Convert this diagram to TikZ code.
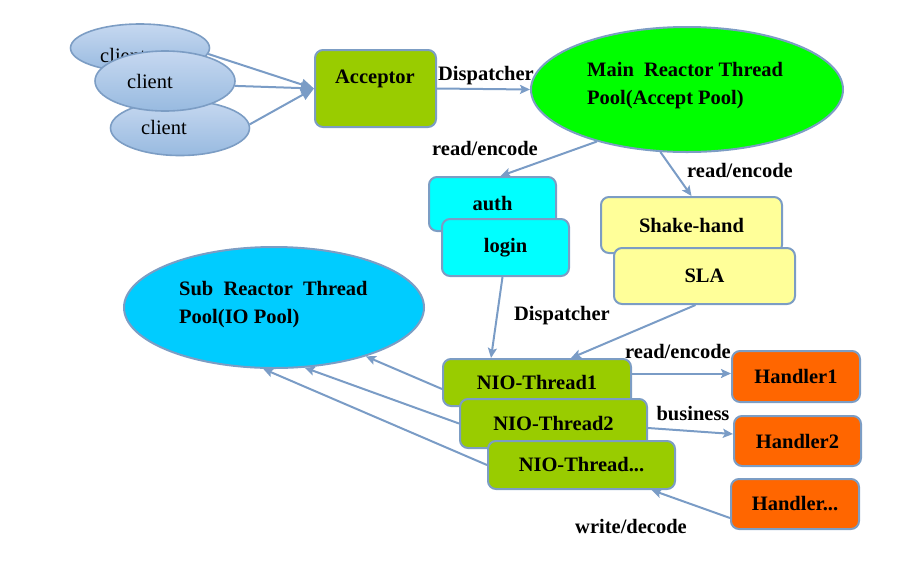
\documentclass[tikz,border=0pt]{standalone}
\usepackage{fontspec}
\setmainfont{Liberation Serif}
\usetikzlibrary{shapes.geometric,arrows.meta,calc}
\definecolor{bordc}{RGB}{124,157,196}
\definecolor{arrc}{RGB}{122,156,198}
\definecolor{cliT}{RGB}{198,216,240}
\definecolor{cliB}{RGB}{152,186,224}
\definecolor{accg}{RGB}{153,204,0}
\definecolor{maing}{RGB}{0,255,0}
\definecolor{cyanb}{RGB}{0,255,255}
\definecolor{yelb}{RGB}{255,255,153}
\definecolor{subb}{RGB}{0,204,255}
\definecolor{hand}{RGB}{255,102,0}
\newcommand\myfs{\fontsize{20.5}{24}\selectfont}
\begin{document}
\begin{tikzpicture}[x=1pt,y=-1pt,
  box/.style={draw=bordc, line width=2pt, rounded corners=8pt, inner sep=0pt, font=\myfs\bfseries},
  ell/.style={ellipse, draw=bordc, line width=2pt, inner sep=0pt},
  cli/.style={ellipse, draw=bordc, line width=1.6pt, top color=cliT, bottom color=cliB, inner sep=0pt},
  ctxt/.style={font=\myfs, inner sep=0pt},
  txt/.style={font=\myfs\bfseries, inner sep=0pt},
  arr/.style={draw=arrc, line width=2pt, -{Stealth[length=10pt,width=9pt,inset=2pt]}},
  carr/.style={draw=arrc, line width=2pt, -{Triangle[length=13pt,width=11pt]}}]
\useasboundingbox (0,0) rectangle (913,566);
% clients
\node[cli, minimum width=139pt, minimum height=48pt] (c1) at (140,48) {};
\node[ctxt] (t1) at (123,55) {client};
\node[cli, minimum width=139pt, minimum height=55pt] (c3) at (180,128) {};
\node[ctxt] (t3) at (164,127) {client};
\node[cli, minimum width=140pt, minimum height=60pt] (c2) at (165,81) {};
\node[ctxt] (t2) at (150,81) {client};
% acceptor
\node[box, fill=accg, minimum width=121pt, minimum height=77pt] (acc) at (375.5,88.5) {};
\node[txt] (acct) at (375,79) {Acceptor};
% main reactor
\node[ell, fill=maing, minimum width=312pt, minimum height=125pt] (main) at (687,89.5) {};
\node[txt, anchor=west] (mainA) at (587,69) {Main\hspace{5pt} Reactor Thread};
\node[txt, anchor=west] (mainB) at (587,100) {Pool(Accept Pool)};
% auth / login
\node[box, fill=cyanb, minimum width=127pt, minimum height=54pt] (auth) at (492.5,204) {auth};
\node[box, fill=cyanb, minimum width=127pt, minimum height=57pt] (login) at (505.5,247.5) {login};
% shake / sla
\node[box, fill=yelb, minimum width=181pt, minimum height=56pt] (shake) at (691.5,225) {Shake-hand};
\node[box, fill=yelb, minimum width=181pt, minimum height=56pt] (sla) at (704.5,276) {SLA};
% sub reactor
\node[ell, fill=subb, minimum width=300pt, minimum height=121pt] (sub) at (274,307.5) {};
\node[txt, anchor=west] (subA) at (179,289) {Sub\hspace{5pt} Reactor\hspace{5pt} Thread};
\node[txt, anchor=west] (subB) at (179,319) {Pool(IO Pool)};
% NIO threads
\node[box, fill=accg, minimum width=188pt, minimum height=47pt] (nio1) at (537,382.5) {NIO-Thread1};
\node[box, fill=accg, minimum width=187pt, minimum height=49pt] (nio2) at (553.5,423.5) {NIO-Thread2};
\node[box, fill=accg, minimum width=187pt, minimum height=48pt] (nio3) at (581.5,465) {NIO-Thread...};
% handlers
\node[box, fill=hand, minimum width=128pt, minimum height=51pt] (h1) at (796,376.5) {Handler1};
\node[box, fill=hand, minimum width=127pt, minimum height=50pt] (h2) at (797.5,441) {Handler2};
\node[box, fill=hand, minimum width=128pt, minimum height=50pt] (h3) at (795,504) {Handler...};
% labels
\node[txt] (l1) at (486,76) {Dispatcher};
\node[txt] (l2) at (485,148) {read/encode};
\node[txt] (l3) at (740,170) {read/encode};
\node[txt] (l4) at (562,316) {Dispatcher};
\node[txt] (l5) at (678,351) {read/encode};
\node[txt] (l6) at (693,414) {business};
\node[txt] (l7) at (631,526) {write/decode};
% connectors
\draw[carr] (c1.-5) -- (acc.west);
\draw[carr] (c2.-4) -- (acc.west);
\draw[carr] (c3.3) -- (acc.west);
\draw[arr] (acc.east) -- (main.west);
\draw[arr] (main.210) -- ($(auth.north)+(8,0)$);
\draw[arr] (main.247) -- (shake.north);
\draw[arr] ($(login.south)+(-3,0)$) -- ($(nio1.north)+(-46,0)$);
\draw[arr] ($(sla.south)+(-9,0)$) -- ($(nio1.north)+(34,0)$);
\draw[arr] ($(nio1.west)+(0,6.5)$) -- (sub.-28);
\draw[arr] (nio2.west) -- (sub.-63);
\draw[arr] (nio3.west) -- (sub.-100);
\draw[arr] ($(nio1.east)+(0,-9)$) -- ($(h1.west)+(0,-3)$);
\draw[arr] ($(nio2.east)+(0,4.5)$) -- ($(h2.west)+(0,-7)$);
\draw[arr] ($(h3.west)+(0,14)$) -- ($(nio3.south)+(70,0)$);
\end{tikzpicture}
\end{document}
